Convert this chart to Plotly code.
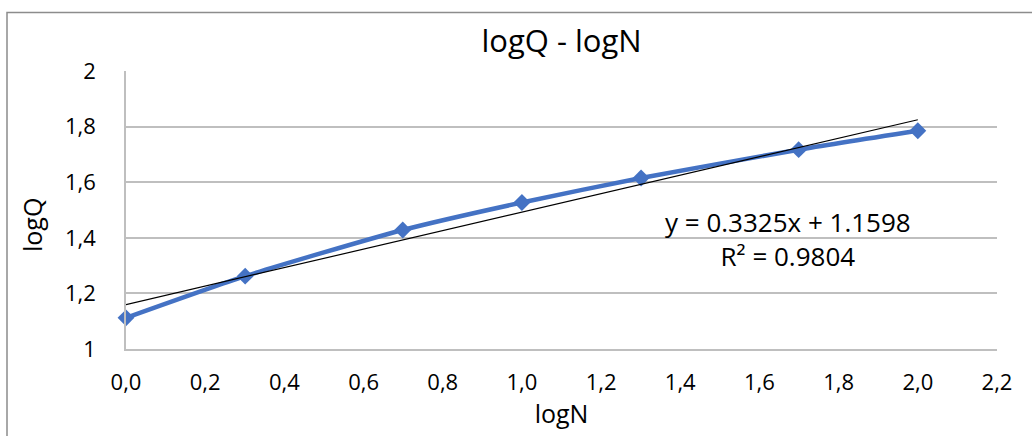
import plotly.graph_objects as go

# Measured points: log10 of N against log10 of Q
log_n = [0.0, 0.301, 0.699, 1.0, 1.301, 1.699, 2.0]
log_q = [1.112, 1.262, 1.428, 1.527, 1.615, 1.717, 1.785]

# Linear trendline coefficients (as printed on the chart)
slope = 0.3325
intercept = 1.1598
r_squared = 0.9804

x_ticks = [0.0, 0.2, 0.4, 0.6, 0.8, 1.0, 1.2, 1.4, 1.6, 1.8, 2.0, 2.2]
y_ticks = [1.0, 1.2, 1.4, 1.6, 1.8, 2.0]

FONT = "'Open Sans', Lato, sans-serif"
GRID = "#BFBFBF"

trend_x = [log_n[0], log_n[-1]]
trend_y = [slope * v + intercept for v in trend_x]

fig = go.Figure()
fig.add_trace(go.Scatter(
    x=log_n, y=log_q, mode="lines+markers",
    line=dict(color="#4472C4", width=4.5, shape="spline", smoothing=0.6),
    marker=dict(symbol="diamond", size=13, color="#4472C4"),
    cliponaxis=False, showlegend=False, hoverinfo="x+y",
))
fig.add_trace(go.Scatter(
    x=trend_x, y=trend_y, mode="lines",
    line=dict(color="#000000", width=1.2),
    showlegend=False, hoverinfo="skip",
))

# Trendline equation and fit quality
fig.add_annotation(
    x=0.76, y=0.394, xref="paper", yref="paper",
    xanchor="center", yanchor="middle",
    text=f"y = {slope}x + {intercept}<br>R² = {r_squared}",
    showarrow=False, align="center",
    font=dict(family=FONT, size=26, color="#000000"),
)

# Vertical axis title
fig.add_annotation(
    x=(32 - 126) / 871, y=(349 - 225) / 278, xref="paper", yref="paper",
    xanchor="center", yanchor="middle", textangle=-90,
    text="logQ", showarrow=False,
    font=dict(family=FONT, size=25, color="#000000"),
)

# Outer chart frame
fig.add_shape(
    type="rect", xref="paper", yref="paper",
    x0=(7 - 126) / 871, x1=(1045 - 126) / 871,
    y0=(349 - 445) / 278, y1=(349 - 12.5) / 278,
    line=dict(color="#8C8C8C", width=1.5), fillcolor="rgba(0,0,0,0)",
)

fig.update_layout(
    width=1032, height=436,
    margin=dict(l=126, r=35, t=71, b=87),
    paper_bgcolor="white", plot_bgcolor="white",
    separators=", ",
    title=dict(text="logQ - logN", x=0.5, xref="paper", y=0.906, yanchor="middle",
               xanchor="center",
               font=dict(family=FONT, size=31, color="#000000")),
    font=dict(family=FONT, color="#000000"),
    xaxis=dict(
        range=[0, 2.2], tickvals=x_ticks, tickformat=".1f",
        showgrid=False, zeroline=False,
        showline=True, linecolor=GRID, linewidth=1.5,
        ticks="", tickfont=dict(size=22), ticklabelstandoff=13,
        title=dict(text="logN", font=dict(size=25), standoff=7),
    ),
    yaxis=dict(
        range=[1, 2], tickvals=y_ticks,
        showgrid=True, gridcolor=GRID, gridwidth=1.5, zeroline=False,
        showline=True, linecolor=GRID, linewidth=1.5,
        ticks="", tickfont=dict(size=22), ticklabelstandoff=24,
    ),
)

fig.write_html("out.html")
